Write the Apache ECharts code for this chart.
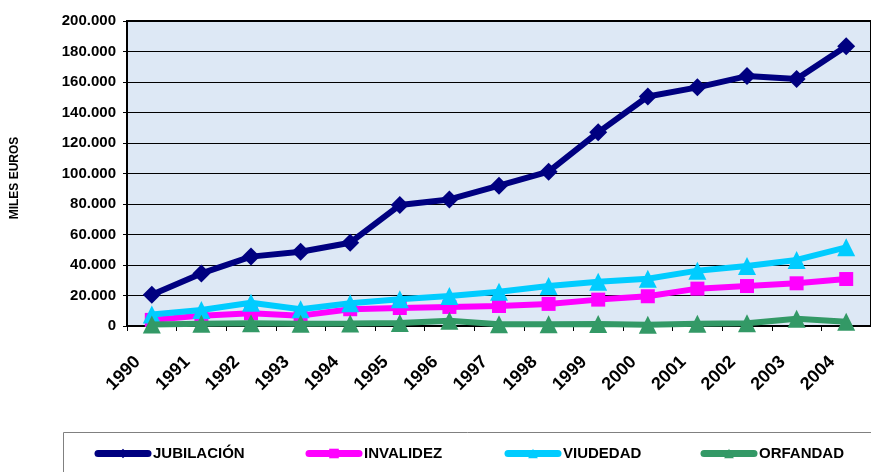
<!DOCTYPE html>
<html><head><meta charset="utf-8">
<script src="https://cdn.jsdelivr.net/npm/echarts@6/dist/echarts.min.js"></script>
<style>html,body{margin:0;padding:0;background:#fff}#c{width:871px;height:472px}</style>
</head><body><div id="c"></div>
<script>
const years = ['1990','1991','1992','1993','1994','1995','1996','1997','1998','1999','2000','2001','2002','2003','2004'];
const jubilacion = [20500, 34500, 45500, 48700, 54600, 79300, 83000, 92000, 101200, 127000, 150500, 156500, 163900, 162000, 183500];
const invalidez  = [4000, 6800, 8300, 6800, 11000, 11800, 12500, 13100, 14500, 17300, 19500, 24500, 26200, 28000, 30800];
const viudedad   = [7500, 10500, 15300, 11000, 14900, 17500, 19700, 22500, 26200, 29000, 31000, 36300, 39300, 43300, 51600];
const orfandad   = [1000, 1500, 1800, 1500, 1700, 2000, 3500, 1200, 1200, 1300, 900, 1500, 1800, 4800, 2800];
const yTitle = 'MILES EUROS';
const names = ['JUBILACIÓN','INVALIDEZ','VIUDEDAD','ORFANDAD'];
const colors = ['#000080','#ff00ff','#00ccff','#339966'];
const symbols = ['diamond','rect','triangle','triangle'];
const symbolSizes = [18, 14, 18, 18];
const dataSets = [jubilacion, invalidez, viudedad, orfandad];
const legendLeft = [94.5, 305.5, 504.5, 700.5];

const FF = 'Liberation Sans, Arial, sans-serif';
const fmt = v => String(v).replace(/\B(?=(\d{3})+(?!\d))/g, '.');
const chart = echarts.init(document.getElementById('c'));
chart.setOption({
  animation: false,
  backgroundColor: '#fff',
  textStyle: {fontFamily: FF},
  grid: {left: 127, top: 21, width: 756, height: 305, show: true, backgroundColor: '#dde8f5', borderColor: '#000', borderWidth: 2},
  xAxis: {
    type: 'category', data: years, boundaryGap: true,
    axisLine: {lineStyle: {color: '#000', width: 2}},
    axisTick: {show: true, length: 5, lineStyle: {color: '#000', width: 1}},
    axisLabel: {rotate: 45, interval: 0, color: '#000', fontWeight: 'bold', fontSize: 18, margin: 19, padding: [0, 20, 0, 0], fontFamily: FF}
  },
  yAxis: {
    type: 'value', min: 0, max: 200000, interval: 20000,
    axisLine: {show: true, lineStyle: {color: '#000', width: 2}},
    axisTick: {show: true, length: 4, lineStyle: {color: '#000'}},
    splitLine: {lineStyle: {color: '#000', width: 1}},
    axisLabel: {color: '#000', fontWeight: 'bold', fontSize: 15, margin: 11, formatter: v => fmt(v), fontFamily: FF}
  },
  legend: names.map((n, i) => ({
    data: [n], left: legendLeft[i], top: 446, padding: 0, itemWidth: 50, itemHeight: 12, itemGap: 0,
    lineStyle: {width: 7, cap: 'round'},
    textStyle: {color: '#000', fontWeight: 'bold', fontSize: 15, padding: 0, fontFamily: FF}
  })),
  graphic: [
    {type: 'rect', shape: {x: 63.5, y: 432.5, width: 900, height: 100}, style: {fill: 'none', stroke: '#808080', lineWidth: 1}, z: -1},
    {type: 'text', x: 15, y: 178, rotation: Math.PI / 2, style: {text: yTitle, fontSize: 12, fontWeight: 'bold', fill: '#000', fontFamily: FF, align: 'center', verticalAlign: 'middle'}}
  ],
  series: names.map((n, i) => ({
    name: n, type: 'line', data: dataSets[i], symbol: symbols[i], symbolSize: symbolSizes[i],
    lineStyle: {color: colors[i], width: 6}, itemStyle: {color: colors[i]}, color: colors[i], z: 2 + i
  }))
});
</script></body></html>
